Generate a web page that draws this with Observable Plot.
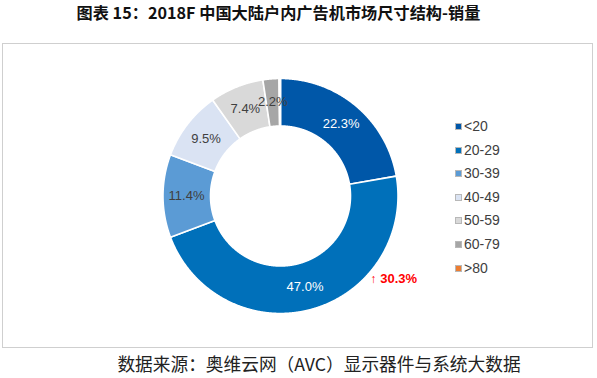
<!DOCTYPE html>
<html><head><meta charset="utf-8">
<script src="https://cdn.jsdelivr.net/npm/d3@7"></script>
<script src="https://cdn.jsdelivr.net/npm/@observablehq/plot@0.6"></script>
<style>
body{margin:0;background:#fff;}
#page{position:relative;width:597px;height:378px;overflow:hidden;font-family:"Liberation Sans",Arial,sans-serif;}
#title{position:absolute;left:0;top:0;width:557px;line-height:34px;text-align:center;font:bold 16.2px "Noto Sans CJK SC",sans-serif;color:#111;}
#box{position:absolute;left:2px;top:43px;width:591px;height:305px;border:1.5px solid #cfcfcf;box-sizing:border-box;}
#box svg{display:block;}
#legend{position:absolute;left:0;top:0;}
.li{position:absolute;font-size:14px;color:#404040;line-height:16px;white-space:nowrap;}
.li i{display:inline-block;width:5px;height:5px;border:1px solid #b8b8b8;margin-right:2px;vertical-align:1px;}
#foot{position:absolute;left:0;top:350px;width:638px;line-height:26px;text-align:center;font:17.7px "Noto Sans CJK SC",serif;color:#222;}
</style></head>
<body><div id="page">
<div id="title"></div>
<div id="box"></div>
<div id="legend"></div>
<div id="foot"></div>
</div>
<script>
const titleText = "图表 15：2018F 中国大陆户内广告机市场尺寸结构-销量";
const sourceText = "数据来源：奥维云网（AVC）显示器件与系统大数据";
const categories = ["<20","20-29","30-39","40-49","50-59","60-79",">80"];
const shares = [22.3, 47.0, 11.4, 9.5, 7.4, 2.2, 0.2];
const colors = ["#0057a8","#0070ba","#5b9bd5","#dae3f3","#d9d9d9","#a6a6a6","#ed7d31"];
const whiteLabelCats = ["<20","20-29"];
const growthCat = "20-29";
const growthValue = 30.3;

document.getElementById("title").textContent = titleText;
document.getElementById("foot").textContent = sourceText;

// slices from data
const pie = d3.pie().sort(null).value(d => d.share)(categories.map((c,i)=>({cat:c, share:shares[i]})));
const R0 = 70/117.5, R1 = 1;
const pts = [];
pie.forEach(p => {
  const n = Math.max(2, Math.ceil((p.endAngle - p.startAngle) / 0.005));
  for (let k=0;k<=n;k++){ const a = p.startAngle + (p.endAngle-p.startAngle)*k/n; pts.push({cat:p.data.cat, x:R1*Math.sin(a), y:R1*Math.cos(a)}); }
  for (let k=n;k>=0;k--){ const a = p.startAngle + (p.endAngle-p.startAngle)*k/n; pts.push({cat:p.data.cat, x:R0*Math.sin(a), y:R0*Math.cos(a)}); }
});
const rl = 0.8;
const labels = pie.filter(p => p.data.share > 1).map(p => {
  const a = (p.startAngle+p.endAngle)/2;
  return {cat:p.data.cat, x:rl*Math.sin(a), y:rl*Math.cos(a), text:p.data.share.toFixed(1)+"%"};
});
// growth annotation just outside its slice
const gp = pie.find(p => p.data.cat === growthCat);
const ga = gp.startAngle + (gp.endAngle-gp.startAngle)*0.31;
const growth = [{x:1.04*Math.sin(ga), y:1.04*Math.cos(ga), text:growthValue.toFixed(1)+"%"}];

const cx = 277, cy = 151.5, R = 117.5;
const chart = Plot.plot({
  width: 588, height: 302,
  margin: 0,
  x: {domain:[-1,1], range:[cx-R, cx+R], axis:null},
  y: {domain:[-1,1], range:[cy+R, cy-R], axis:null},
  color: {domain: categories, range: colors},
  marks: [
    Plot.line(pts, {x:"x", y:"y", z:"cat", fill:"cat", stroke:"#fff", strokeWidth:1.6, curve:"linear-closed"}),
    Plot.text(labels.filter(d => whiteLabelCats.includes(d.cat)), {x:"x", y:"y", text:"text", fill:"#fff", fontSize:13, fontFamily:"Liberation Sans, Arial, sans-serif"}),
    Plot.text(labels.filter(d => !whiteLabelCats.includes(d.cat)), {x:"x", y:"y", text:"text", fill:"#404040", fontSize:13, fontFamily:"Liberation Sans, Arial, sans-serif"}),
    Plot.text(growth, {x:"x", y:"y", text:() => "↑", fill:"#ff0000", fontSize:12, textAnchor:"start", dx:0, fontFamily:"Liberation Sans, Arial, sans-serif"}),
    Plot.text(growth, {x:"x", y:"y", text:"text", fill:"#ff0000", fontSize:13, fontWeight:"bold", textAnchor:"start", dx:10, fontFamily:"Liberation Sans, Arial, sans-serif"})
  ]
});
document.getElementById("box").appendChild(chart);

// legend
const lg = document.getElementById("legend");
categories.forEach((c,i) => {
  const d = document.createElement("div");
  d.className = "li";
  d.style.left = "455px";
  d.style.top = (126 + i*23.6 - 8) + "px";
  const sw = document.createElement("i");
  sw.style.background = colors[i];
  d.appendChild(sw);
  d.appendChild(document.createTextNode(c));
  lg.appendChild(d);
});
</script>
</body></html>
